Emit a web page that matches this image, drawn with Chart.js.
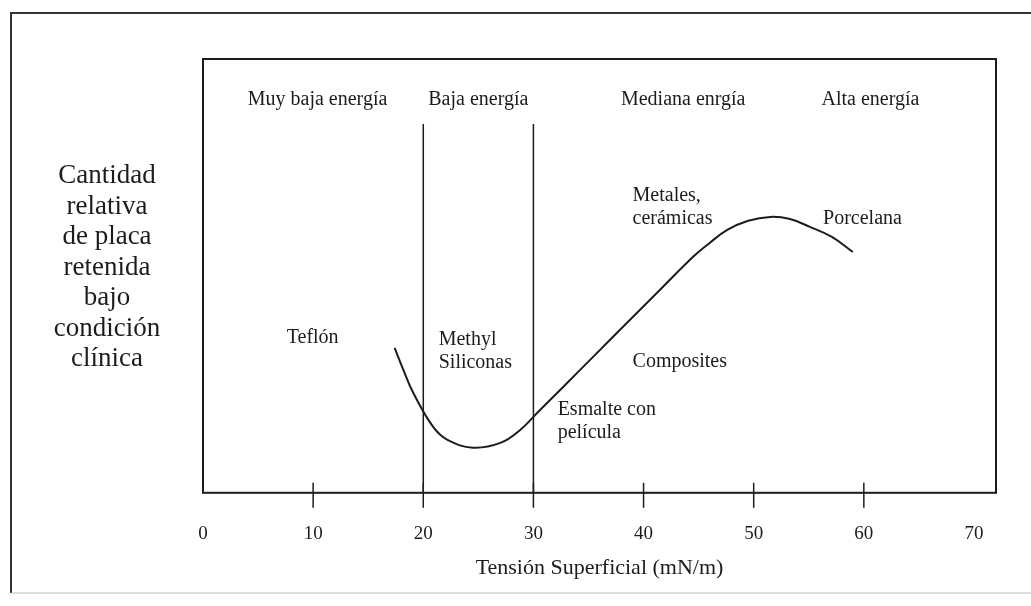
<!DOCTYPE html>
<html lang="es">
<head>
    <meta charset="UTF-8">
    <title>Tensión superficial y placa retenida</title>
    <style>
        body { margin: 0; background: #fff; }
        canvas { display: block; }
    </style>
    <script src="https://cdn.jsdelivr.net/npm/chart.js"></script>
</head>
<body>
    <canvas id="plaqueChart" width="1031" height="606"></canvas>

    <script>
        // x axis: surface tension (mN/m)
        var tickValues = [0, 10, 20, 30, 40, 50, 60, 70];
        var markedTicks = [10, 20, 30, 40, 50, 60];

        // curve (relative amount, 0-100)
        var curveX = [17.4, 18.2, 19.1, 20.9, 22.2, 24.5, 27.0, 28.8, 30.6, 32.7, 35.6, 38.5, 41.5, 44.5, 46.0, 47.6, 49.5, 51.5, 53.3, 55.1, 57.1, 59.0];
        var curveY = [33.4, 28.3, 23.0, 15.2, 12.2, 10.4, 11.5, 14.5, 19.1, 24.4, 31.8, 39.2, 46.8, 54.4, 57.6, 60.6, 62.7, 63.6, 63.1, 61.3, 59.0, 55.5];

        // energy zone boundaries
        var boundaryX = [20, 30];
        var boundaryTop = 85;

        // zone names along the top
        var zoneNames = ['Muy baja energía', 'Baja energía', 'Mediana enrgía', 'Alta energía'];
        var zoneX = [10.4, 25.0, 43.6, 60.6];
        var zoneY = 90.6;

        // materials
        var materialNames = [['Teflón'], ['Methyl', 'Siliconas'], ['Composites'], ['Esmalte con', 'película'], ['Metales,', 'cerámicas'], ['Porcelana']];
        var materialX = [7.6, 21.4, 39.0, 32.2, 39.0, 56.3];
        var materialY = [35.7, 35.3, 30.2, 19.1, 68.4, 63.1];

        var yTitle = ['Cantidad', 'relativa', 'de placa', 'retenida', 'bajo', 'condición', 'clínica'];
        var xTitle = 'Tensión Superficial (mN/m)';

        var serif = '"Liberation Serif", "DejaVu Serif", serif';
        var ink = '#1c1c1c';

        var datasets = [{
            label: 'curva',
            data: curveX.map(function (x, i) { return { x: x, y: curveY[i] }; }),
            showLine: true,
            tension: 0.4,
            borderColor: ink,
            borderWidth: 2,
            pointRadius: 0
        }];
        boundaryX.forEach(function (x) {
            datasets.push({
                label: 'limite ' + x,
                data: [{ x: x, y: 0 }, { x: x, y: boundaryTop }],
                showLine: true,
                borderColor: ink,
                borderWidth: 1.5,
                pointRadius: 0
            });
        });

        // frame, tick marks and text labels
        var drawingPlugin = {
            id: 'drawingPlugin',
            beforeDraw: function (chart) {
                var ctx = chart.ctx;
                ctx.save();
                ctx.fillStyle = '#fff';
                ctx.fillRect(0, 0, chart.width, chart.height);
                ctx.restore();
            },
            afterDraw: function (chart) {
                var ctx = chart.ctx;
                var area = chart.chartArea;
                var xs = chart.scales.x;
                var ys = chart.scales.y;
                ctx.save();

                // outer border
                ctx.strokeStyle = '#333';
                ctx.lineWidth = 2;
                ctx.beginPath();
                ctx.moveTo(11, 593);
                ctx.lineTo(11, 13);
                ctx.lineTo(1031, 13);
                ctx.stroke();
                ctx.strokeStyle = '#bbb';
                ctx.lineWidth = 1;
                ctx.beginPath();
                ctx.moveTo(11, 593);
                ctx.lineTo(1031, 593);
                ctx.stroke();

                // plot box
                ctx.strokeStyle = ink;
                ctx.lineWidth = 2;
                ctx.strokeRect(area.left, area.top, area.right - area.left, area.bottom - area.top);

                // tick marks crossing the axis
                ctx.lineWidth = 1.5;
                markedTicks.forEach(function (v) {
                    var px = xs.getPixelForValue(v);
                    ctx.beginPath();
                    ctx.moveTo(px, area.bottom - 10);
                    ctx.lineTo(px, area.bottom + 15);
                    ctx.stroke();
                });

                ctx.fillStyle = ink;
                ctx.font = '20px ' + serif;
                ctx.textBaseline = 'middle';

                // zone names
                ctx.textAlign = 'center';
                zoneNames.forEach(function (name, i) {
                    ctx.fillText(name, xs.getPixelForValue(zoneX[i]), ys.getPixelForValue(zoneY));
                });

                // material names
                ctx.textAlign = 'left';
                materialNames.forEach(function (lines, i) {
                    var px = xs.getPixelForValue(materialX[i]);
                    var py = ys.getPixelForValue(materialY[i]);
                    lines.forEach(function (line, j) {
                        ctx.fillText(line, px, py + j * 23);
                    });
                });

                // y axis title, horizontal stacked lines
                ctx.textAlign = 'center';
                ctx.font = '27px ' + serif;
                yTitle.forEach(function (line, j) {
                    ctx.fillText(line, 107, 176 + j * 30.5);
                });

                ctx.restore();
            }
        };

        new Chart(document.getElementById('plaqueChart').getContext('2d'), {
            type: 'scatter',
            data: { datasets: datasets },
            options: {
                responsive: false,
                animation: false,
                layout: { padding: { left: 203, right: 35, top: 59, bottom: 25 } },
                plugins: {
                    legend: { display: false },
                    tooltip: { enabled: false }
                },
                scales: {
                    x: {
                        type: 'linear',
                        min: 0,
                        max: 72,
                        afterBuildTicks: function (scale) {
                            scale.ticks = tickValues.map(function (v) { return { value: v }; });
                        },
                        grid: { display: false, drawTicks: true, tickLength: 27 },
                        border: { display: false },
                        ticks: {
                            padding: 3,
                            maxRotation: 0,
                            color: ink,
                            font: { family: serif, size: 19 }
                        },
                        title: {
                            display: true,
                            text: xTitle,
                            color: ink,
                            padding: { top: 6, bottom: 0 },
                            font: { family: serif, size: 22 }
                        }
                    },
                    y: {
                        display: false,
                        min: 0,
                        max: 100
                    }
                }
            },
            plugins: [drawingPlugin]
        });
    </script>
</body>
</html>
